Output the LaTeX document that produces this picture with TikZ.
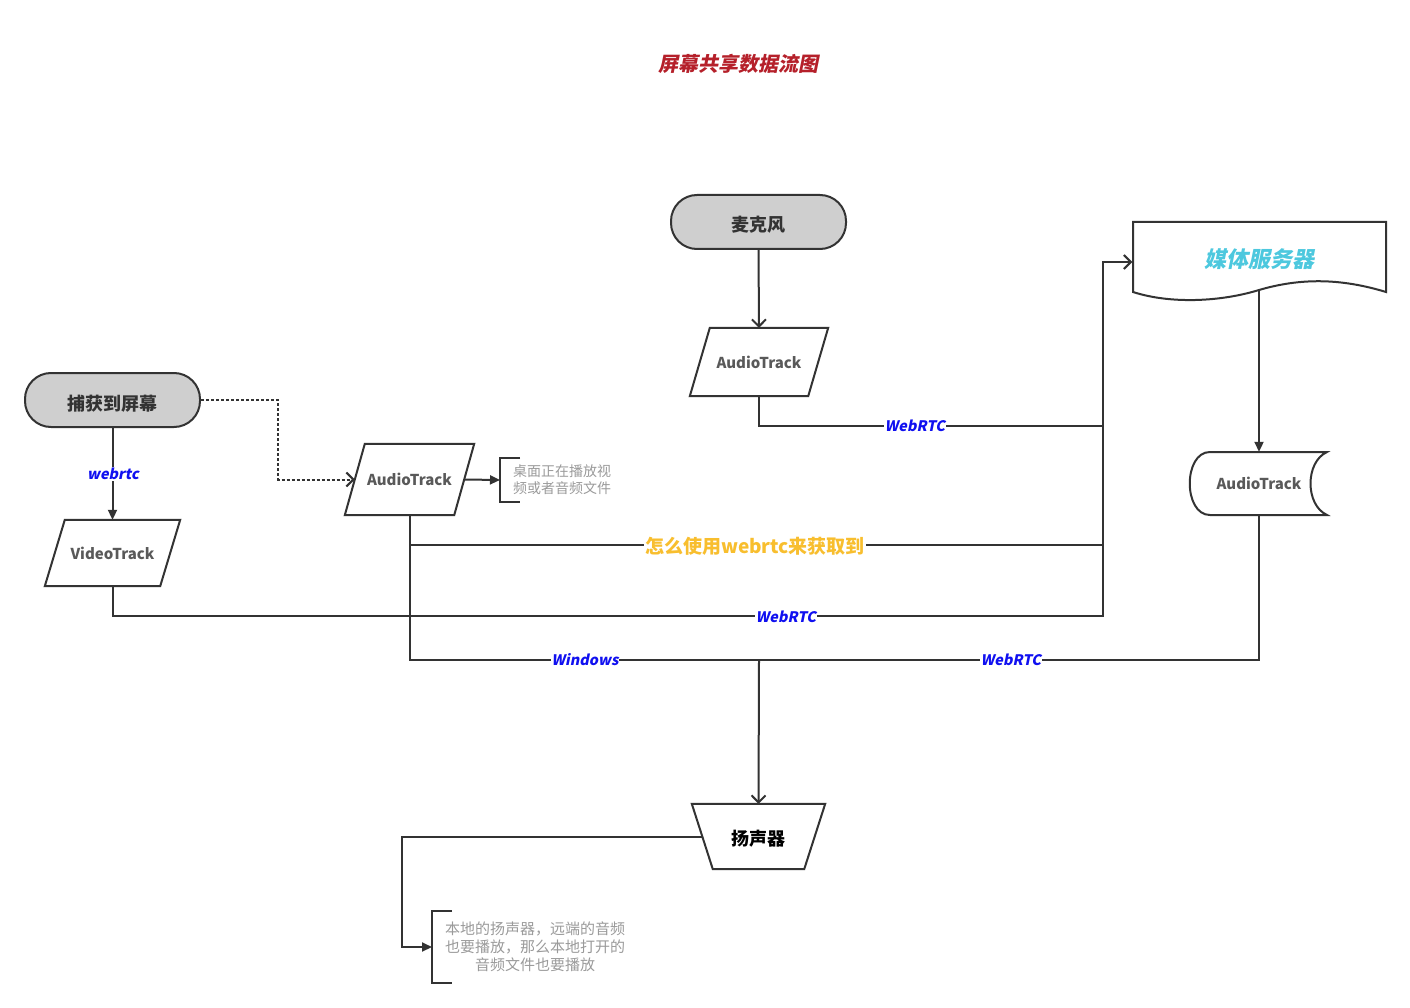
\documentclass[tikz,border=0pt]{standalone}
\usepackage{fontspec}
\setmainfont{Noto Sans CJK SC}
\newfontfamily\cjkit{Noto Sans CJK SC}[FakeSlant=0.2]
\usetikzlibrary{arrows.meta}
\definecolor{ln}{HTML}{333333}
\definecolor{termfill}{HTML}{CFCFCF}
\definecolor{nodetext}{HTML}{595959}
\definecolor{lblblue}{HTML}{1010F0}
\definecolor{ttlred}{HTML}{B5202A}
\definecolor{srvcyan}{HTML}{4DC8DE}
\definecolor{qorange}{HTML}{F8BE2E}
\definecolor{notegray}{HTML}{9A9A9A}
\newcommand\paranode[6]{%
  \node[txt, minimum width=#4pt, minimum height=#5pt] (#1) at (#2,#3) {#6};
  \draw[shp] ([xshift=10pt]#1.north west) -- ([xshift=10pt]#1.north east)
    -- ([xshift=-10pt]#1.south east) -- ([xshift=-10pt]#1.south west) -- cycle;}
\begin{document}
\begin{tikzpicture}[x=1pt,y=-1pt,
  line/.style={draw=ln, line width=2pt},
  open/.style={-{Straight Barb[length=7pt,width=14pt]}},
  tri/.style={-{Triangle[length=10pt,width=9pt]}},
  term/.style={draw=ln, line width=2pt, fill=termfill, rounded corners=26pt,
    minimum width=175pt, minimum height=54pt, inner sep=0pt,
    text height=20pt, text depth=0pt,
    font=\fontsize{18}{20}\selectfont\bfseries, text=ln},
  txt/.style={inner sep=0pt, font=\fontsize{15}{18}\selectfont\bfseries, text=nodetext},
  shp/.style={draw=ln, line width=2pt, line join=miter},
  lbl/.style={fill=white, inner sep=1pt, text=lblblue,
    font=\cjkit\fontsize{14.5}{16}\selectfont\bfseries},
  qlbl/.style={fill=white, inner sep=1pt, text=qorange,
    font=\fontsize{19}{21}\selectfont\bfseries},
  note/.style={inner xsep=13pt, inner ysep=0pt, text=notegray,
    font=\fontsize{14}{17}\selectfont},
  brk/.style={draw=ln, line width=2pt},
  ttl/.style={text=ttlred, font=\cjkit\fontsize{20}{22}\selectfont\bfseries},
  srv/.style={inner sep=0pt, minimum width=253pt, minimum height=80pt,
    text height=16pt, text depth=5pt,
    text=srvcyan, font=\cjkit\fontsize{22}{24}\selectfont\bfseries}
]
\useasboundingbox (0,0) rectangle (1410,1008);

% title
\node[ttl] (title) at (738,64) {屏幕共享数据流图};

% terminals
\node[term] (cap) at (112.5,400) {捕获到屏幕};
\node[term] (mic) at (758.5,222) {麦克风};

% parallelograms
\paranode{mat}{759}{362}{118}{68}{AudioTrack}
\paranode{lat}{409.5}{479.5}{109}{71}{AudioTrack}
\paranode{vt}{112.5}{553}{115}{66}{VideoTrack}

% speaker (manual operation)
\node[txt, minimum width=112pt, minimum height=65pt, text=black,
  text height=18pt, text depth=0pt,
  font=\fontsize{18}{20}\selectfont\bfseries] (spk) at (758.5,836.5) {扬声器};
\draw[shp] ([xshift=-10.5pt]spk.north west) -- ([xshift=10.5pt]spk.north east)
  -- ([xshift=-10.5pt]spk.south east) -- ([xshift=10.5pt]spk.south west) -- cycle;

% media server (document)
\node[srv] (server) at (1259,262) {媒体服务器};
\draw[shp] (1133,292) -- (1133,222) -- (1386,222) -- (1386,292)
  .. controls (1340,278) and (1300,278) .. (1259,290)
  .. controls (1220,302) and (1170,304) .. (1133,292) -- cycle;

% stored data AudioTrack
\node[txt, minimum width=137pt, minimum height=63pt] (srvat) at (1259,483.5) {AudioTrack};
\draw[shp] (1210,452) -- (1327,452)
  .. controls (1305,462) and (1305,505) .. (1327,515) -- (1210,515)
  .. controls (1183,515) and (1183,452) .. (1210,452) -- cycle;

% notes with brackets
\node[note, anchor=west, minimum height=44pt, align=left] (note1) at (500,480)
  {桌面正在播放视\\频或者音频文件};
\draw[brk] ([xshift=20pt]note1.north west) -- (note1.north west)
  -- (note1.south west) -- ([xshift=20pt]note1.south west);
\node[note, anchor=west, minimum height=72pt, align=center,
  font=\fontsize{15}{18}\selectfont] (note2) at (432,947)
  {本地的扬声器，远端的音频\\也要播放，那么本地打开的\\音频文件也要播放};
\draw[brk] ([xshift=20pt]note2.north west) -- (note2.north west)
  -- (note2.south west) -- ([xshift=20pt]note2.south west);

% coordinates
\coordinate (b1) at (1103,426);
\coordinate (b2) at (1103,545);
\coordinate (b3) at (1103,616);
\coordinate (jn) at (759,660);
\coordinate (dk) at (278,440);
\coordinate (c402) at (402,900);

% connectors
\draw[line,open] (mic.south) -- (mat.north);
\draw[line] (mat.south) |- (b1);
\draw[line] (lat.south) |- (b2);
\draw[line,open] (vt.south) |- (b3) |- (server.west);
\draw[line,tri] (cap.south) -- (vt.north);
\draw[line,open,dash pattern=on 3pt off 2pt] (cap.east) -| (dk) |- (lat.west);
\draw[line,tri] (lat.east) -- (note1.west);
\draw[line] (lat.south) |- (jn) -| (srvat.south);
\draw[line,open] (jn) -- (spk.north);
\draw[line,tri] ([yshift=12pt]server.south) -- (srvat.north);
\draw[line,tri] (spk.west) -| (c402) |- (note2.west);

% labels
\node[lbl] (lw1) at (113,474) {webrtc};
\node[lbl] (lw2) at (915,426) {WebRTC};
\node[lbl] (lw3) at (786,617) {WebRTC};
\node[lbl] (lw4) at (585,660) {Windows};
\node[lbl] (lw5) at (1011,660) {WebRTC};
\node[qlbl] (q) at (755,546) {怎么使用webrtc来获取到};
\end{tikzpicture}
\end{document}
